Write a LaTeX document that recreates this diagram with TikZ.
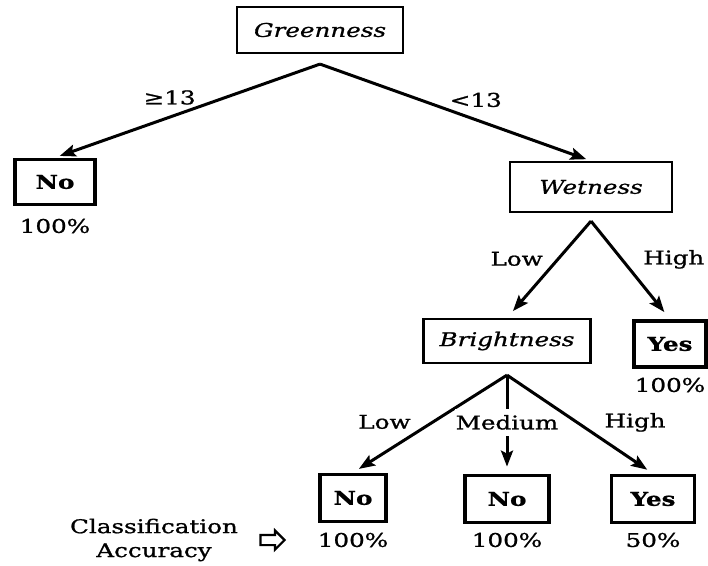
\documentclass[tikz,border=0pt]{standalone}
\usepackage{fontspec}
\setmainfont{DejaVu Serif}[FakeStretch=1.3, FakeBold=1.0]
\usepackage{tikz}
\usetikzlibrary{positioning, arrows.meta, shapes.arrows}

\newcommand{\treefont}{\fontsize{19}{24}\selectfont}

\begin{document}
\begin{tikzpicture}[
    x=1bp, y=-1bp,
    on grid,
    split/.style={
        draw,
        line width=2.2bp,
        font=\treefont\itshape,
        minimum width=166bp,
        minimum height=46bp,
        inner sep=0pt
    },
    leaf/.style={
        draw,
        line width=3.8bp,
        font=\treefont\bfseries,
        minimum height=47bp,
        inner sep=0pt
    },
    pct/.style={font=\treefont, inner sep=1bp},
    cond/.style={font=\treefont, inner sep=1bp},
    arrow/.style={-{Stealth[length=16bp,width=12bp,inset=3bp]}, line width=3bp}
]

\useasboundingbox (0,0) rectangle (708,566);

%  Root split 
\node[split] (green) at (320,30) {Greenness};

%  First level 
\node[leaf, minimum width=80bp, minimum height=45bp] (noL) [below left=152bp and 265bp of green] {No};
\node[split, minimum width=162bp, minimum height=50bp] (wet) [below right=157bp and 271bp of green] {Wetness};

%  Second level 
\node[split, minimum width=167bp, minimum height=44bp] (bri) [below left=154bp and 84bp of wet] {Brightness};
\node[leaf, minimum width=72bp, minimum height=46bp] (yesR) [below right=157bp and 79bp of wet] {Yes};

%  Bottom leaves 
\node[leaf, minimum width=66bp] (noB1) [below left=157bp and 154bp of bri] {No};
\node[leaf, minimum width=84bp] (noB2) [below=158bp of bri] {No};
\node[leaf, minimum width=83bp] (yesB) [below right=158bp and 146bp of bri] {Yes};

%  Accuracies 
\node[pct] (pctL) [below=44bp of noL] {100\%};
\node[pct] (pctR) [below=41bp of yesR] {100\%};
\node[pct] (pctB1) [below=42bp of noB1] {100\%};
\node[pct] (pctB2) [below=41bp of noB2] {100\%};
\node[pct] (pctB3) [below=41bp of yesB] {50\%};

\node[pct, align=center] (acc) [left=199bp of pctB1] {Classification\\Accuracy};
\node[single arrow, draw, line width=2.2bp, inner sep=4bp,
      minimum height=24bp, minimum width=17bp,
      single arrow head extend=4.5bp] (pointer) [left=83bp of pctB1] {};

%  Arrows 
\draw[arrow, shorten >=5bp] ([yshift=-10bp]green.south) -- node[cond, pos=0.46, anchor=south east]{≥13} (noL.north);
\draw[arrow, shorten >=5bp] ([yshift=-10bp]green.south) -- node[cond, pos=0.47, anchor=south west]{<13} (wet.north);

\draw[arrow, shorten >=9bp] ([yshift=-8bp]wet.south) -- node[cond, pos=0.39, anchor=east, xshift=-13bp]{Low} (bri.north);
\draw[arrow, shorten >=9bp] ([yshift=-8bp]wet.south) -- node[cond, pos=0.39, anchor=west, xshift=19bp]{High} (yesR.north);

\draw[arrow, shorten >=7bp] ([yshift=-11bp]bri.south) -- node[cond, pos=0.48, anchor=east, xshift=-20bp]{Low} (noB1.north);
\draw[arrow, shorten >=7bp] ([yshift=-11bp]bri.south) -- node[cond, pos=0.48, fill=white, inner xsep=1bp, inner ysep=6bp]{Medium} (noB2.north);
\draw[arrow, shorten >=7bp] ([yshift=-11bp]bri.south) -- node[cond, pos=0.48, anchor=west, xshift=25bp]{High} (yesB.north);

\end{tikzpicture}
\end{document}
